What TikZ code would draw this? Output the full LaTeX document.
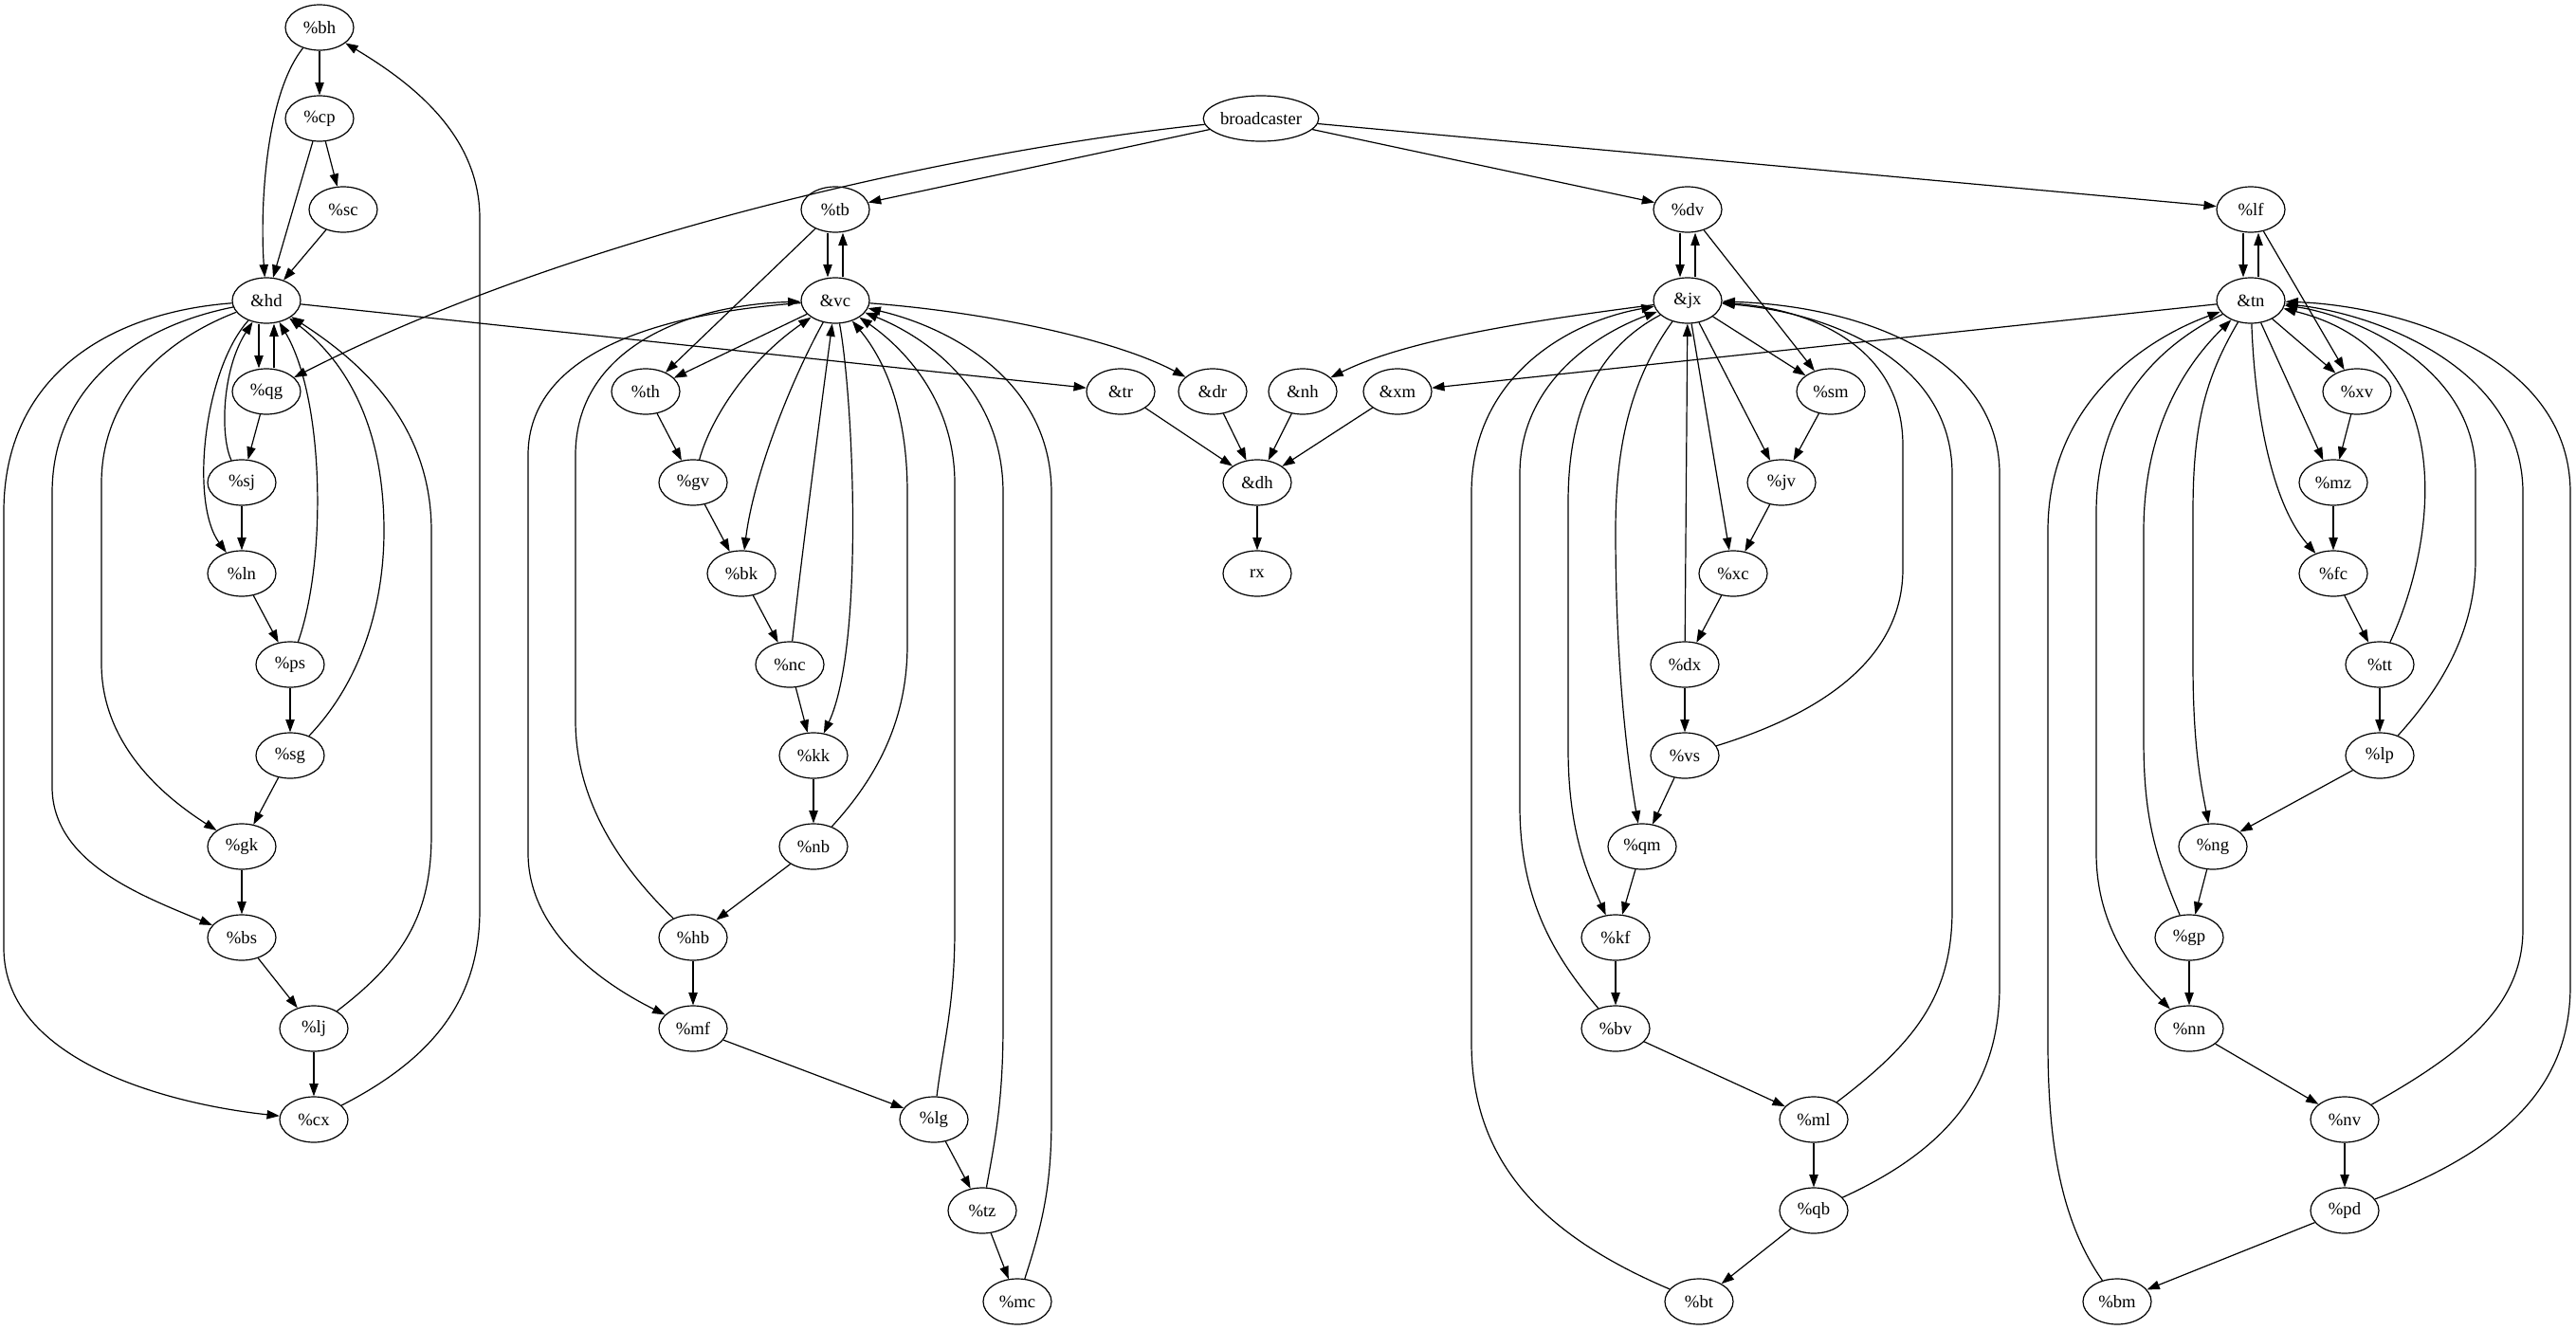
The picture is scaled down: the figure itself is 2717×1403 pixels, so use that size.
\documentclass[tikz,border=0pt]{standalone}
\usepackage{fontspec}
\setmainfont{Liberation Serif}
\usepackage{tikz}
\usetikzlibrary{arrows.meta,shapes.geometric}

\begin{document}
\begin{tikzpicture}[
  x=0.75pt, y=-0.75pt,
  every node/.style={font=\fontsize{14}{16}\selectfont},
  vtx/.style={draw, ellipse, line width=0.9pt, minimum width=54pt, minimum height=36pt, inner sep=0pt},
  link/.style={-{Triangle[length=10pt,width=7pt]}, line width=0.9pt}
]
\useasboundingbox (0,0) rectangle (2717,1403);

\foreach \n/\x/\y in {
  bh/337/29, cp/337/125, sc/362/221, qg/281/413, sj/255/509, ln/255/605,
  ps/306/701, sg/306/797, gk/255/893, bs/255/989, lj/331/1085, cx/331/1181,
  tb/881/221, th/681/413, gv/731/509, bk/782/605, nc/833/701, kk/858/797,
  nb/858/893, hb/731/989, mf/731/1085, lg/985/1181, tz/1036/1277, mc/1073/1373,
  dv/1780/221, sm/1931/413, jv/1879/509, xc/1828/605, dx/1777/701, vs/1777/797,
  qm/1732/893, kf/1704/989, bv/1704/1085, ml/1913/1181, qb/1913/1277, bt/1792/1373,
  lf/2374/221, xv/2486/413, mz/2461/509, fc/2461/605, tt/2510/701, lp/2510/797,
  ng/2334/893, gp/2309/989, nn/2309/1085, nv/2473/1181, pd/2473/1277, bm/2233/1373}{
  \node[vtx] (\n) at (\x,\y) {\%\n};
}
\foreach \n/\x/\y in {
  hd/281/317, vc/881/317, tr/1182/413, dr/1279/413, nh/1374/413,
  xm/1474/413, dh/1326/509, jx/1780/317, tn/2374/317}{
  \node[vtx] (\n) at (\x,\y) {\&\n};
}
\node[vtx] (broadcaster) at (1330,125) {broadcaster};
\node[vtx] (rx) at (1326,605) {rx};

\foreach \a/\b in {
  bh/cp, cp/sc, cp/hd, sc/hd, qg/sj, sj/ln, ln/ps, ps/sg, sg/gk, gk/bs, bs/lj, lj/cx, hd/tr,
  broadcaster/tb, broadcaster/dv, broadcaster/lf,
  tb/th, vc/th, th/gv, gv/bk, bk/nc, nc/kk, kk/nb, nb/hb, hb/mf, mf/lg, lg/tz, tz/mc,
  tr/dh, dr/dh, nh/dh, xm/dh, dh/rx,
  dv/sm, jx/sm, jx/jv, sm/jv, jv/xc, jx/xc, xc/dx, dx/jx, dx/vs, vs/qm, qm/kf, kf/bv,
  bv/ml, ml/qb, qb/bt,
  lf/xv, tn/xm, tn/xv, xv/mz, tn/mz, mz/fc, fc/tt, tt/lp, lp/ng, ng/gp, gp/nn, nn/nv,
  nv/pd, pd/bm}{
  \draw[link] (\a) -- (\b);
}

\foreach \a/\b in {hd/qg, tb/vc, dv/jx, lf/tn}{
  \draw[link] ([xshift=-6pt]\a.south) -- ([xshift=-6pt]\b.north);
  \draw[link] ([xshift=6pt]\b.north) -- ([xshift=6pt]\a.south);
}

\draw[link] (bh) .. controls (280,100) and (274,220) .. (hd);
\draw[link] (sj) .. controls (232,460) and (234,390) .. (hd);
\draw[link] (hd) .. controls (215,390) and (200,530) .. (ln);
\draw[link] (ps) .. controls (345,590) and (342,420) .. (hd);
\draw[link] (sg) .. controls (380,720) and (405,640) .. (405,560) .. controls (405,430) and (350,370) .. (hd);
\draw[link] (hd) .. controls (170,360) and (107,420) .. (107,510) -- (107,700) .. controls (107,790) and (180,845) .. (gk);
\draw[link] (hd) .. controls (140,345) and (55,410) .. (55,520) -- (55,830) .. controls (55,910) and (150,945) .. (bs);
\draw[link] (hd) .. controls (110,330) and (4,400) .. (4,540) -- (4,1000) .. controls (4,1120) and (180,1165) .. (cx);
\draw[link] (lj) .. controls (430,1010) and (455,960) .. (455,880) -- (455,560) .. controls (455,440) and (370,375) .. (hd);
\draw[link] (cx) .. controls (450,1120) and (506,1060) .. (506,960) -- (506,230) .. controls (506,140) and (430,85) .. (bh);
\draw[link] (broadcaster) .. controls (1000,160) and (600,250) .. (qg);

\draw[link] (gv) .. controls (750,440) and (790,380) .. (vc);
\draw[link] (vc) .. controls (835,400) and (795,500) .. (bk);
\draw[link] (nc) .. controls (845,590) and (866,430) .. (vc);
\draw[link] (vc) .. controls (900,420) and (912,680) .. (kk);
\draw[link] (nb) .. controls (925,820) and (957,760) .. (957,680) -- (957,520) .. controls (957,420) and (925,370) .. (vc);
\draw[link] (hb) .. controls (660,920) and (607,850) .. (607,760) -- (607,480) .. controls (607,370) and (720,322) .. (vc);
\draw[link] (vc) .. controls (700,330) and (557,370) .. (557,480) -- (557,900) .. controls (557,985) and (640,1040) .. (mf);
\draw[link] (lg) .. controls (995,1100) and (1007,1060) .. (1007,980) -- (1007,510) .. controls (1007,420) and (950,365) .. (vc);
\draw[link] (tz) .. controls (1050,1200) and (1058,1160) .. (1058,1080) -- (1058,520) .. controls (1058,410) and (975,355) .. (vc);
\draw[link] (mc) .. controls (1100,1290) and (1109,1250) .. (1109,1180) -- (1109,520) .. controls (1109,400) and (1000,345) .. (vc);
\draw[link] (vc) .. controls (1050,330) and (1180,360) .. (dr);

\draw[link] (jx) .. controls (1600,340) and (1480,360) .. (nh);
\draw[link] (vs) .. controls (1930,750) and (2007,690) .. (2007,600) -- (2007,470) .. controls (2007,360) and (1900,325) .. (jx);
\draw[link] (jx) .. controls (1720,400) and (1704,470) .. (1704,560) .. controls (1704,700) and (1716,800) .. (qm);
\draw[link] (jx) .. controls (1680,370) and (1654,440) .. (1654,530) -- (1654,790) .. controls (1654,880) and (1676,925) .. (kf);
\draw[link] (bv) .. controls (1640,1010) and (1603,950) .. (1603,850) -- (1603,500) .. controls (1603,400) and (1690,350) .. (jx);
\draw[link] (bt) .. controls (1620,1300) and (1552,1220) .. (1552,1100) -- (1552,520) .. controls (1552,400) and (1650,340) .. (jx);
\draw[link] (ml) .. controls (2020,1100) and (2059,1050) .. (2059,960) -- (2059,500) .. controls (2059,380) and (1930,330) .. (jx);
\draw[link] (qb) .. controls (2060,1210) and (2109,1140) .. (2109,1040) -- (2109,500) .. controls (2109,370) and (1950,322) .. (jx);

\draw[link] (tn) .. controls (2378,430) and (2395,530) .. (fc);
\draw[link] (tt) .. controls (2575,560) and (2590,370) .. (tn);
\draw[link] (lp) .. controls (2580,720) and (2611,660) .. (2611,590) -- (2611,500) .. controls (2611,385) and (2480,332) .. (tn);
\draw[link] (tn) .. controls (2325,400) and (2313,450) .. (2313,540) -- (2313,700) .. controls (2313,790) and (2322,830) .. (ng);
\draw[link] (gp) .. controls (2272,900) and (2261,860) .. (2261,780) -- (2261,560) .. controls (2261,440) and (2315,375) .. (tn);
\draw[link] (tn) .. controls (2265,370) and (2211,440) .. (2211,540) -- (2211,900) .. controls (2211,985) and (2260,1035) .. (nn);
\draw[link] (bm) .. controls (2175,1290) and (2160,1210) .. (2160,1100) -- (2160,560) .. controls (2160,420) and (2270,355) .. (tn);
\draw[link] (nv) .. controls (2600,1110) and (2661,1060) .. (2661,980) -- (2661,520) .. controls (2661,385) and (2500,330) .. (tn);
\draw[link] (pd) .. controls (2650,1210) and (2711,1140) .. (2711,1040) -- (2711,520) .. controls (2711,370) and (2520,322) .. (tn);
\end{tikzpicture}
\end{document}
